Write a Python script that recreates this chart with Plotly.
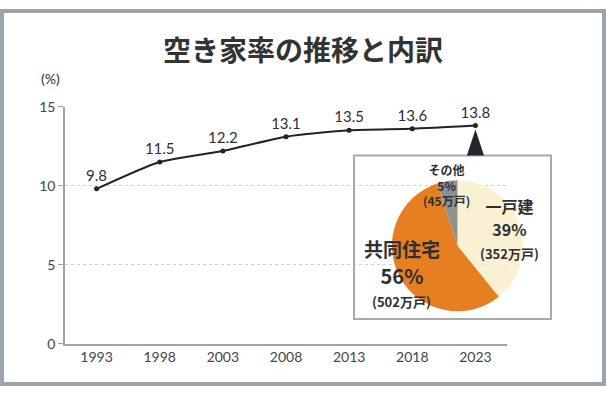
import plotly.graph_objects as go

W, H = 606, 394

# ---- data ----
years = [1993, 1998, 2003, 2008, 2013, 2018, 2023]
rate = [9.8, 11.5, 12.2, 13.1, 13.5, 13.6, 13.8]
year_labels = ["1993", "1998", "2003", "2008", "2013", "2018", "2023"]
y_ticks = [0, 5, 10, 15]

pie_labels = ["一戸建", "共同住宅", "その他"]
pie_units = [352, 502, 45]          # 万戸
pie_pct = [39, 56, 5]               # %
pie_colors = ["rgba(249,239,206,0.85)", "#E67E22", "#8C928E"]

title = "空き家率の推移と内訳"

TXT = "#2f2f33"
FONT_NUM = "Lato, 'Noto Sans CJK JP', sans-serif"
FONT_JP = "'Noto Sans CJK JP', sans-serif"

def px(x):
    return x / W

def py(y):
    return 1 - y / H

fig = go.Figure()

fig.add_trace(go.Scatter(
    x=years, y=rate, mode="lines+markers+text",
    text=[f"{v:.1f}" for v in rate], textposition="top center",
    textfont=dict(family=FONT_NUM, size=15, color=TXT),
    line=dict(color="#222228", width=2, shape="spline", smoothing=0.6),
    marker=dict(color="#222228", size=5),
    hoverinfo="skip", showlegend=False, cliponaxis=False,
))

fig.add_trace(go.Pie(
    labels=pie_labels, values=pie_units, sort=False, direction="clockwise",
    rotation=0, textinfo="none", hoverinfo="skip", showlegend=False,
    marker=dict(colors=pie_colors, line=dict(width=0)),
    domain=dict(x=[px(389), px(526)], y=[py(316), py(179)]),
))

shapes = [
    # outer frame
    dict(type="rect", xref="paper", yref="paper", x0=px(2), x1=px(W - 2),
         y0=py(H - 2), y1=py(2), line=dict(color="#9BA5AE", width=4),
         fillcolor="rgba(0,0,0,0)", layer="above"),
    # inset box
    dict(type="rect", xref="paper", yref="paper", x0=px(354), x1=px(551),
         y0=py(324), y1=py(153), line=dict(color="#A9A9A9", width=2),
         fillcolor="rgba(0,0,0,0)", layer="above"),
    # pointer triangle
    dict(type="path", xref="x", yref="paper",
         path=f"M {years[-1]-0.68},{py(153)} L {years[-1]+0.68},{py(153)} L {years[-1]},{py(126)} Z",
         fillcolor="#25252f", line=dict(color="#25252f", width=0), layer="above"),
]

def lab(text, x, y, size, family=FONT_JP, bold=True, color=TXT):
    return dict(text=text, x=px(x), y=py(y), xref="paper", yref="paper",
                showarrow=False, xanchor="center", yanchor="middle",
                font=dict(family=family, size=size, color=color,
                          weight="bold" if bold else "normal"))

def sp(text, size):
    return f"<span style='font-size:{size}px'>{text}</span>"

ann = [
    lab(title, 303, 42, 28, color="#333333"),
    lab("(%)", 50, 73, 14, family=FONT_NUM, bold=False),
    # その他
    lab(f"{pie_labels[2]}<br>{pie_pct[2]}%<br>({pie_units[2]}万戸)", 446, 184, 12),
    # 一戸建
    lab(f"{sp(pie_labels[0], 16)}<br>{sp(str(pie_pct[0]) + '%', 16)}<br>{sp('(' + str(pie_units[0]) + '万戸)', 13)}",
        509, 229, 17.5),
    # 共同住宅
    lab(f"{sp(pie_labels[1], 19)}<br>{sp(str(pie_pct[1]) + '%', 20)}", 402, 265, 21),
    lab(f"({pie_units[1]}万戸)", 401, 306, 13),
]

fig.update_layout(
    width=W, height=H, margin=dict(l=0, r=0, t=0, b=0),
    paper_bgcolor="white", plot_bgcolor="white",
    shapes=shapes, annotations=ann,
    xaxis=dict(domain=[px(65), px(507)], range=[1990.5, 2025.5],
               tickvals=years, ticktext=year_labels, showgrid=False, zeroline=False,
               showline=True, linecolor="#A0A4A8", linewidth=1.5, ticks="",
               tickfont=dict(family=FONT_NUM, size=14, color="#444444")),
    yaxis=dict(domain=[1 - 350 / H, 1 - 102 / H], range=[0, 15],
               tickvals=y_ticks, showgrid=True, gridcolor="#D0D0D0", griddash="dot", gridwidth=1,
               zeroline=False, showline=True, linecolor="#A0A4A8", linewidth=1.5,
               ticks="outside", ticklen=5, tickcolor="#A0A4A8",
               tickfont=dict(family=FONT_NUM, size=14, color="#444444")),
)

fig.write_html("out.html", config={"displayModeBar": False},
               post_script="document.body.style.margin='0';document.body.style.padding='0';")
